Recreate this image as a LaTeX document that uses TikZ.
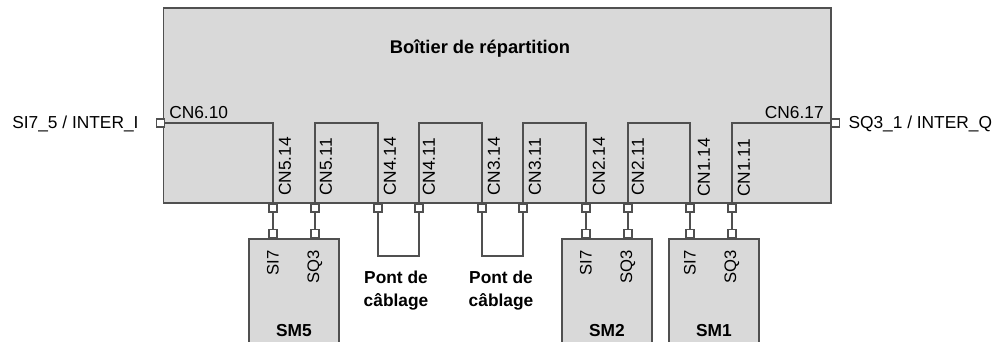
\documentclass[tikz,border=0pt]{standalone}
\usepackage{fontspec}
\setmainfont{Liberation Sans}
\usetikzlibrary{positioning}
\definecolor{boxgray}{HTML}{D9D9D9}
\definecolor{wiregray}{HTML}{505050}

\begin{document}
\begin{tikzpicture}[x=0.75pt, y=-0.75pt, auto, node distance=12.75pt,
                    box node/.style= {rectangle,
                      fill=boxgray,
                      draw=wiregray,
                      line width=1.4pt},
                    pin node/.style= {rectangle,
                      fill=white,
                      draw=wiregray,
                      line width=1.1pt,
                      inner sep=0pt,
                      minimum size=6pt},
                    wire/.style= {draw=wiregray, line width=1.4pt},
                    cn label/.style= {font=\fontsize{13}{15}\selectfont,
                      inner sep=0pt},
                    cn vert/.style= {cn label, rotate=90, anchor=west},
                    sm label/.style= {font=\fontsize{12.5}{14}\selectfont,
                      inner sep=0pt, rotate=90, anchor=east},
                    side label/.style= {font=\fontsize{13}{15}\selectfont,
                      inner sep=0pt},
                    bold label/.style= {font=\bfseries\fontsize{13}{17.25}\selectfont,
                      inner sep=0pt, align=center}]

  \clip (0,0) rectangle (997,342);

  % boxes
  \node[box node, minimum width=500.6pt, minimum height=146.25pt] (boitier) at (497.25,105.5) {};
  \node[box node, minimum width=67.5pt, minimum height=97.5pt] (sm5) at (294,304) {};
  \node[box node, minimum width=67.5pt, minimum height=97.5pt] (sm2) at (607,304) {};
  \node[box node, minimum width=67.5pt, minimum height=97.5pt] (sm1) at (714,304) {};

  % terminals
  \node[pin node] (cn610) at (160.5,123) {};
  \node[pin node] (cn617) at (835.5,123) {};
  \foreach \name/\xpos in {cn514/273, cn511/315, cn414/378, cn411/419, cn314/482,
                           cn311/523, cn214/586, cn211/628, cn114/690, cn111/732}
    \node[pin node] (\name) at (\xpos,208) {};
  \foreach \name/\xpos in {si75/273, sq35/315, si72/586, sq32/628, si71/690, sq31/732}
    \node[pin node] (\name) at (\xpos,233.5) {};

  \coordinate (pont) at (0,256);

  % wires inside the box
  \draw[wire] (cn610) -- (cn514 |- cn610) -- (cn514);
  \draw[wire] (cn511) -- (cn511 |- cn610) -- (cn414 |- cn610) -- (cn414);
  \draw[wire] (cn411) -- (cn411 |- cn610) -- (cn314 |- cn610) -- (cn314);
  \draw[wire] (cn311) -- (cn311 |- cn610) -- (cn214 |- cn610) -- (cn214);
  \draw[wire] (cn211) -- (cn211 |- cn610) -- (cn114 |- cn610) -- (cn114);
  \draw[wire] (cn111) -- (cn111 |- cn617) -- (cn617);

  % wires below the box
  \draw[wire] (cn514) -- (si75);
  \draw[wire] (cn511) -- (sq35);
  \draw[wire] (cn214) -- (si72);
  \draw[wire] (cn211) -- (sq32);
  \draw[wire] (cn114) -- (si71);
  \draw[wire] (cn111) -- (sq31);
  \draw[wire] (cn414) -- (cn414 |- pont) -- (cn411 |- pont) -- (cn411);
  \draw[wire] (cn314) -- (cn314 |- pont) -- (cn311 |- pont) -- (cn311);

  % labels
  \node[bold label, font=\bfseries\fontsize{13.75}{17}\selectfont] (titre) at (480,48.5) {Boîtier de répartition};
  \node[side label] (inter i) [left=of cn610, yshift=-0.5pt] {SI7\_5 / INTER\_I};
  \node[side label] (inter q) [right=6pt of cn617, yshift=-0.5pt] {SQ3\_1 / INTER\_Q};
  \node[cn label, anchor=west] (l610) at (169,113) {CN6.10};
  \node[cn label, anchor=east] (l617) at (824,113) {CN6.17};

  \node[cn vert] (l514) at (285,196) {CN5.14};
  \node[cn vert] (l511) at (326,196) {CN5.11};
  \node[cn vert] (l414) at (390,196) {CN4.14};
  \node[cn vert] (l411) at (429,196) {CN4.11};
  \node[cn vert] (l314) at (494,196) {CN3.14};
  \node[cn vert] (l311) at (535,196) {CN3.11};
  \node[cn vert] (l214) at (599,196) {CN2.14};
  \node[cn vert] (l211) at (638,196) {CN2.11};
  \node[cn vert] (l114) at (704,197) {CN1.14};
  \node[cn vert] (l111) at (744,197) {CN1.11};

  \node[sm label] (l75) at (273,250) {SI7};
  \node[sm label] (l35) at (315,250) {SQ3};
  \node[sm label] (l72) at (586,250) {SI7};
  \node[sm label] (l32) at (628,250) {SQ3};
  \node[sm label] (l71) at (690,250) {SI7};
  \node[sm label] (l31) at (732,250) {SQ3};

  \node[bold label] (pont a) at (396,291) {Pont de\\câblage};
  \node[bold label] (pont b) at (501,291) {Pont de\\câblage};

  \node[bold label] (nom5) at (294,331) {SM5};
  \node[bold label] (nom2) at (607,331) {SM2};
  \node[bold label] (nom1) at (714,331) {SM1};
\end{tikzpicture}
\end{document}
